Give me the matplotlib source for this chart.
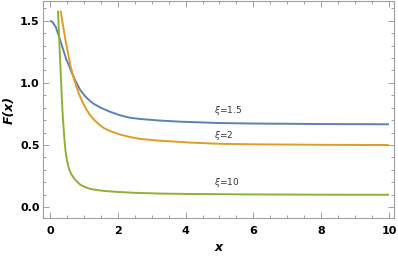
import numpy as np
import matplotlib
matplotlib.use("Agg")
import matplotlib.pyplot as plt
from matplotlib.ticker import MultipleLocator

# values
x_15 = [0, 0.07, 0.17, 0.27, 0.34, 0.41, 0.48, 0.56, 0.63, 0.71, 0.80, 0.90, 1.0, 1.1, 1.2, 1.3, 1.4, 1.5,
        1.75, 2.06, 2.35, 2.65, 3.24, 3.83, 5.0, 6.0, 7.0, 8.0, 9.0, 10.0]
F_15 = [1.50, 1.49, 1.45, 1.37, 1.31, 1.25, 1.19, 1.14, 1.09, 1.04, 0.99, 0.94, 0.905, 0.875, 0.85, 0.83, 0.815, 0.80,
        0.77, 0.74, 0.72, 0.71, 0.697, 0.688, 0.677, 0.673, 0.671, 0.669, 0.668, 0.667]

x_2 = [0.315, 0.36, 0.41, 0.46, 0.51, 0.56, 0.61, 0.66, 0.71, 0.78, 0.85, 0.92, 1.0, 1.1, 1.2, 1.33, 1.45, 1.6,
       1.8, 2.06, 2.35, 2.65, 3.24, 4.13, 5.0, 6.0, 7.0, 8.0, 9.0, 10.0]
F_2 = [1.58, 1.50, 1.42, 1.34, 1.27, 1.20, 1.13, 1.08, 1.03, 0.97, 0.915, 0.87, 0.825, 0.775, 0.735, 0.695, 0.665, 0.635,
       0.61, 0.585, 0.565, 0.55, 0.535, 0.52, 0.51, 0.506, 0.504, 0.502, 0.501, 0.50]

x_10 = [0.236, 0.25, 0.27, 0.295, 0.33, 0.36, 0.385, 0.41, 0.435, 0.46, 0.50, 0.56, 0.63, 0.71, 0.80, 0.90, 1.05, 1.2,
        1.35, 1.5, 1.75, 2.0, 2.5, 3.24, 4.0, 5.0, 6.0, 7.0, 8.0, 9.0, 10.0]
F_10 = [1.58, 1.49, 1.38, 1.21, 1.0, 0.82, 0.70, 0.61, 0.52, 0.45, 0.38, 0.31, 0.265, 0.233, 0.205, 0.18, 0.16, 0.147,
        0.14, 0.134, 0.128, 0.123, 0.116, 0.11, 0.107, 0.105, 0.103, 0.102, 0.101, 0.1005, 0.10]

labels = [r"$\xi$=1.5", r"$\xi$=2", r"$\xi$=10"]
label_pos = [(4.85, 0.78), (4.85, 0.58), (4.85, 0.20)]

fig = plt.figure(figsize=(3.98, 2.57), dpi=100)
ax = fig.add_axes([0.108, 0.152, 0.882, 0.844])

ax.plot(x_15, F_15, color="#5E81B5", lw=1.4, solid_capstyle="butt")
ax.plot(x_2, F_2, color="#E19C24", lw=1.4, solid_capstyle="butt")
ax.plot(x_10, F_10, color="#8FB032", lw=1.4, solid_capstyle="butt")

for t, (px, py) in zip(labels, label_pos):
    ax.text(px, py, t, fontsize=6.5, color="#333333", va="center", ha="left")

ax.set_xlim(-0.206, 10.15)
ax.set_ylim(-0.086, 1.658)

ax.xaxis.set_major_locator(MultipleLocator(2))
ax.xaxis.set_minor_locator(MultipleLocator(0.5))
ax.yaxis.set_major_locator(MultipleLocator(0.5))
ax.yaxis.set_minor_locator(MultipleLocator(0.1))

for s in ax.spines.values():
    s.set_color("#A0A0A0")
    s.set_linewidth(0.8)

ax.tick_params(which="both", direction="in", top=True, right=True, color="#A0A0A0", width=0.7)
ax.tick_params(which="major", length=4)
ax.tick_params(which="minor", length=2)
ax.tick_params(axis="x", which="major", pad=5.5)
ax.tick_params(axis="y", which="major", pad=2.5)

for lab in ax.get_xticklabels() + ax.get_yticklabels():
    lab.set_fontweight("bold")
    lab.set_fontsize(8)

ax.set_xlabel("x", fontsize=9, fontweight="bold", style="italic", labelpad=4)
ax.set_ylabel("F(x)", fontsize=9, fontweight="bold", style="italic", labelpad=3)

fig.savefig("out.png", dpi=100)
